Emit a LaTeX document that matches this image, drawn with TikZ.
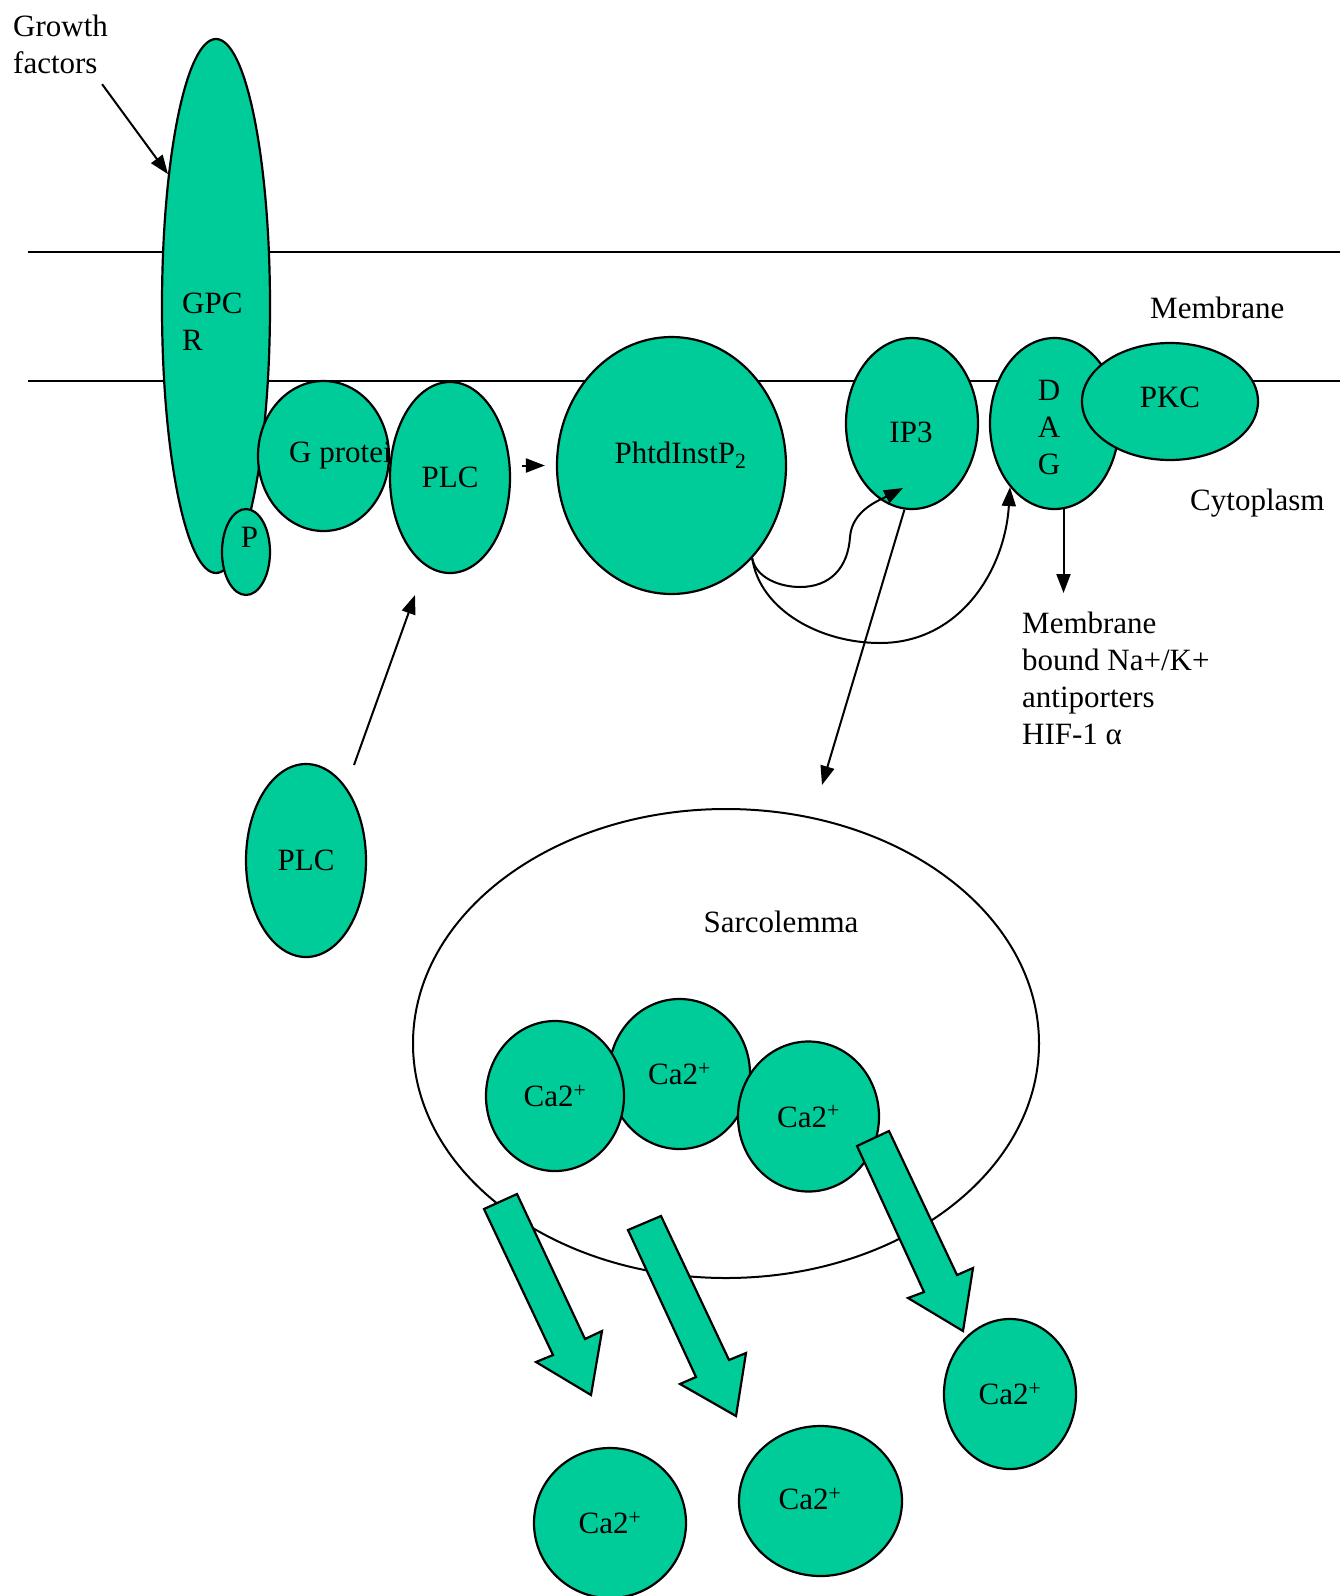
\documentclass[tikz,border=0pt]{standalone}
\usepackage{fontspec}
\setmainfont{Liberation Serif}
\usetikzlibrary{shapes.geometric,arrows.meta,calc}
\definecolor{cellgreen}{RGB}{0,204,153}
\newcommand{\caion}{Ca2\textsuperscript{+}}
\begin{document}
\begin{tikzpicture}[x=1pt,y=-1pt,font=\fontsize{31}{37}\selectfont,
  blob/.style={ellipse,draw,fill=cellgreen,line width=2.2pt,inner sep=0pt},
  lbl/.style={inner sep=0pt,align=left},
  arr/.style={-{Triangle[length=19pt,width=14pt]},line width=2pt},
  caflow/.style={draw,fill=cellgreen,line width=2.2pt,line join=miter}]
\useasboundingbox (0,0) rectangle (1340,1596);
% membrane
\draw[line width=2pt] (28,252) -- (1340,252);
\draw[line width=2pt] (28,381) -- (1340,381);
\begin{scope}
\node[blob,minimum width=108pt,minimum height=534pt] (gpcr) at (216,306) {};%receptor
\node[lbl,anchor=north west] (gpcrtxt) at (182,292.5) {GPC\\R};
\node[blob,minimum width=48pt,minimum height=86pt] (p) at (246,552) {};
\node[lbl] (ptxt) at (249.5,537.5) {P};
\node[blob,minimum width=131pt,minimum height=150pt] (gprot) at (323.5,456) {};
\node[lbl,anchor=base west] (gprottxt) at (289,462) {G protein};
\node[blob,minimum width=120pt,minimum height=191pt] (plcup) at (450,477.5) {PLC};
\node[blob,minimum width=229pt,minimum height=257pt] (phtd) at (671.5,465.5) {};
\node[lbl,anchor=base] (phtdtxt) at (680.5,463) {PhtdInstP\textsubscript{2}};
\node[blob,minimum width=132pt,minimum height=171pt] (ip3) at (912,423.5) {};
\node[lbl,anchor=base] (ip3txt) at (911,442) {IP3};
\node[blob,minimum width=129pt,minimum height=171pt] (dag) at (1054.5,423.5) {};
\node[lbl,align=center] (dagtxt) at (1049,427) {D\\A\\G};
\node[blob,minimum width=176pt,minimum height=117pt] (pkc) at (1170,401.5) {};
\node[lbl] (pkctxt) at (1170,397) {PKC};
\node[blob,minimum width=120pt,minimum height=193pt] (plclow) at (306,860.5) {PLC};
\end{scope}
% labels
\node[lbl,anchor=north west] (growth) at (13,15) {Growth\\factors};
\node[lbl,anchor=base west] (membr) at (1150,318) {Membrane};
\node[lbl,anchor=base west] (cyto) at (1190,510) {Cytoplasm};
\node[lbl,anchor=north west] (antip) at (1022,612) {Membrane\\bound Na+/K+\\antiporters\\HIF-1 α};
\coordinate (ip3end) at (822,785);
% arrows
\draw[arr] ([xshift=-6pt,yshift=-10pt]growth.south east) -- (gpcr.110);
\draw[arr] ($(plcup.east |- phtd.west)+(11,0)$) -- ($(phtd.west)+(-11,0)$);
\draw[arr] ([xshift=48pt,yshift=95.5pt]plclow.center) -- ([xshift=-35pt,yshift=-117.5pt]plcup.center);
\draw[arr] (phtd.-49) .. controls (756,578) and (780,587) .. (800,587) .. controls (830,587) and (848,568) .. (850,537) .. controls (852,510) and (880,500) .. ($(ip3.center)+(-9,64.5)$);
\draw[arr] (phtd.-49) .. controls (760,610) and (820,643) .. (880,643) .. controls (960,643) and (1005,570) .. (dag.-125);
\draw[arr] (ip3.-95) -- (ip3end);
\draw[arr,shorten >=19pt] (dag.-84) -- (dag.-84 |- antip.north);
% sarcolemma
\node[ellipse,draw,line width=2pt,fill=white,minimum width=626pt,minimum height=469pt] (sarco) at (726,1043.5) {};
\node[lbl,anchor=base] (sarcotxt) at (781,932) {Sarcolemma};
\node[blob,minimum width=141pt,minimum height=150pt] (ca2) at (679.5,1074) {\caion};
\node[blob,minimum width=138pt,minimum height=150pt] (ca1) at (555,1096) {\caion};
\node[blob,minimum width=141pt,minimum height=150pt] (ca3) at (808.5,1116.5) {\caion};
\node[blob,minimum width=132pt,minimum height=150pt] (ca4) at (1010,1394) {\caion};
\node[blob,minimum width=163pt,minimum height=150pt] (ca5) at (820.5,1501) {};
\node[lbl] (ca5txt) at (810,1499) {\caion};
\node[blob,minimum width=152pt,minimum height=150pt] (ca6) at (610,1523) {\caion};
% release
\draw[caflow] (484,1209) -- (517,1194) -- (585,1339) -- (602,1331) -- (591,1395) -- (536,1362) -- (553,1355) -- cycle;
\draw[caflow] (628,1230) -- (661,1216) -- (729,1360) -- (746,1353) -- (736,1416) -- (680,1384) -- (696,1377) -- cycle;
\draw[caflow] (857,1146) -- (889,1131) -- (957,1275) -- (973,1268) -- (963,1331) -- (908,1298) -- (924,1292) -- cycle;
\end{tikzpicture}
\end{document}
